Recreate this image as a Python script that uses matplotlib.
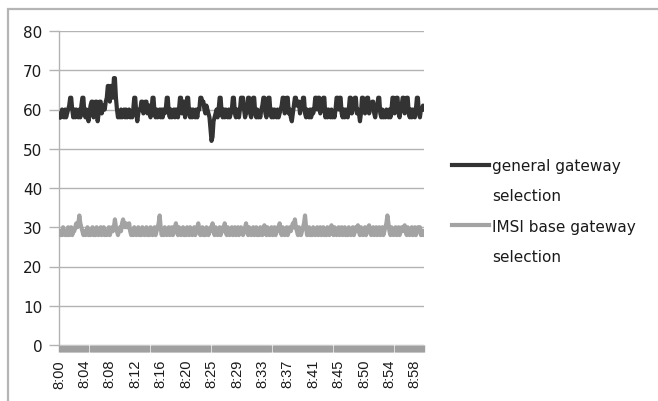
import matplotlib
matplotlib.use("Agg")
import matplotlib.pyplot as plt
from matplotlib.lines import Line2D
from matplotlib.patches import Rectangle
from datetime import datetime, timedelta

# ---- data (10-second samples, 8:00:00 .. 8:59:50) ----
general = [
    58, 59, 58, 60, 59, 58, 60, 58, 59, 60, 61, 63, 63, 60, 58, 60, 58, 60, 59, 58,
    60, 58, 61, 63, 63, 59, 58, 60, 58, 57, 59, 61, 62, 62, 58, 60, 62, 62, 57, 59,
    62, 62, 59, 60, 61, 60, 62, 63, 66, 66, 62, 66, 66, 63, 68, 68, 63, 60, 58, 59,
    58, 60, 58, 59, 60, 58, 60, 58, 59, 60, 58, 59, 58, 60, 63, 63, 59, 57, 59, 60,
    60, 62, 62, 59, 60, 62, 62, 59, 61, 61, 58, 60, 63, 63, 59, 58, 60, 58, 59, 60,
    58, 60, 58, 60, 59, 60, 63, 63, 59, 58, 60, 58, 59, 60, 58, 60, 60, 58, 60, 63,
    63, 59, 62, 62, 58, 60, 63, 63, 59, 58, 60, 58, 60, 59, 58, 60, 58, 60, 60, 63,
    63, 62, 62, 60, 59, 61, 60, 59, 58, 55, 52, 53, 57, 58, 59, 60, 58, 60, 63, 63,
    59, 58, 60, 58, 60, 59, 58, 60, 58, 59, 60, 63, 63, 59, 58, 60, 59, 58, 60, 63,
    63, 63, 60, 58, 59, 60, 63, 63, 59, 58, 60, 63, 63, 59, 58, 60, 58, 59, 58, 60,
    61, 63, 63, 59, 58, 60, 63, 63, 59, 58, 60, 58, 60, 59, 58, 60, 58, 59, 60, 61,
    63, 63, 59, 60, 63, 63, 59, 60, 58, 57, 59, 61, 63, 63, 61, 62, 62, 59, 60, 61,
    63, 63, 59, 58, 60, 59, 58, 60, 58, 60, 59, 60, 63, 63, 60, 63, 63, 59, 60, 61,
    63, 63, 58, 60, 58, 60, 59, 58, 60, 58, 59, 58, 60, 63, 63, 60, 63, 63, 59, 58,
    60, 58, 60, 59, 58, 60, 63, 63, 59, 60, 61, 63, 63, 59, 60, 59, 57, 59, 63, 63,
    60, 59, 61, 63, 63, 59, 60, 61, 62, 62, 59, 58, 60, 61, 63, 63, 59, 58, 60, 58,
    59, 58, 60, 59, 58, 60, 58, 60, 63, 63, 59, 60, 63, 63, 59, 58, 60, 61, 63, 63,
    59, 60, 63, 63, 59, 58, 60, 58, 60, 59, 58, 60, 63, 63, 59, 58, 60, 60, 61, 60,
]
imsi = [
    29, 28, 29, 28, 30, 29, 28, 29, 28, 30, 28, 29, 30, 28, 29, 29, 30, 31, 30, 31,
    33, 31, 30, 29, 28, 29, 28, 29, 30, 28, 29, 28, 29, 30, 28, 29, 28, 30, 29, 28,
    29, 30, 28, 29, 30, 28, 29, 28, 29, 30, 28, 29, 30, 29, 30, 32, 30, 29, 28, 29,
    30, 29, 31, 32, 31, 30, 31, 30, 30, 31, 29, 28, 29, 28, 30, 29, 28, 29, 30, 28,
    29, 28, 30, 29, 28, 29, 30, 28, 29, 28, 30, 29, 28, 29, 30, 28, 29, 30, 31, 33,
    30, 28, 29, 28, 30, 29, 28, 29, 30, 28, 29, 30, 28, 29, 30, 31, 29, 28, 30, 29,
    28, 29, 30, 28, 29, 28, 30, 29, 28, 30, 29, 28, 29, 30, 28, 29, 30, 31, 29, 28,
    29, 30, 28, 29, 28, 30, 29, 28, 29, 30, 29, 31, 29, 28, 30, 29, 28, 29, 30, 28,
    29, 30, 29, 31, 29, 28, 30, 29, 28, 29, 30, 28, 29, 30, 28, 29, 30, 28, 29, 30,
    29, 28, 29, 30, 31, 29, 28, 30, 29, 28, 29, 30, 28, 29, 30, 28, 29, 28, 30, 29,
    28, 29, 30.5, 29, 28, 30, 29, 28, 29, 30, 28, 29, 30, 28, 29, 30, 29, 31, 29, 28,
    30, 29, 28, 29, 30, 28, 29, 30, 29, 30, 31, 30, 32, 30, 29, 28, 30, 29, 28, 29,
    30, 31, 33, 30, 28, 29, 30, 28, 29, 28, 30, 29, 28, 29, 30, 28, 29, 30, 28, 29,
    30, 28, 29, 28, 30, 29, 28, 29, 30.5, 29, 28, 30, 29, 28, 29, 30, 28, 29, 30, 28,
    29, 30, 28, 29, 28, 30, 29, 28, 29, 30, 28, 29, 30, 29, 30.5, 29, 28, 30, 29, 28,
    29, 30, 28, 29, 30, 30.5, 29, 28, 29, 30, 28, 29, 30, 28, 29, 30, 28, 29, 30, 28,
    29, 30, 31, 33, 31, 29, 28, 30, 29, 28, 29, 30, 28, 29, 30, 28, 29, 30, 29, 30,
    30.5, 29, 28, 30, 29, 28, 29, 30, 28, 29, 30, 28, 29, 30, 29, 30, 28, 29, 28, 29,
]
series_names = ["general gateway", "IMSI base gateway"]
y_ticks = [0, 10, 20, 30, 40, 50, 60, 70, 80]

start = datetime(2000, 1, 1, 8, 0, 0)
times = [start + timedelta(seconds=10 * i) for i in range(len(general))]
label_every = 25
x = list(range(len(general)))
tick_pos = x[::label_every]
tick_labels = [f"{t.hour}:{t.minute:02d}" for t in times[::label_every]]

# ---- figure ----
W, H = 658, 402
fig = plt.figure(figsize=(W / 100, H / 100), dpi=100)
fig.patch.set_facecolor("white")

# outer chart-area border (only top/left visible in the crop)
top = 1 - 9.5 / H
fig.patches.append(Rectangle((7.5 / W, -1.0), 3.0, top + 1.0,
                             transform=fig.transFigure, fill=False,
                             edgecolor="#b5b5b5", linewidth=1.6))

ax = fig.add_axes([59 / W, 1 - 346 / H, (424 - 59) / W, (346 - 32) / H])
grid_c = "#b3b3b3"
ax.plot(x, general, color="#333333", linewidth=3.0, solid_joinstyle="round", zorder=3)
ax.plot(x, imsi, color="#a3a3a3", linewidth=3.0, solid_joinstyle="round", zorder=3)

ax.set_xlim(0, len(general) - 1)
ax.set_ylim(0, 80)
ax.set_yticks(y_ticks)
ax.yaxis.grid(True, color=grid_c, linewidth=1.0)
ax.set_axisbelow(True)
for s in ["top", "right", "bottom"]:
    ax.spines[s].set_visible(False)
ax.spines["left"].set_color(grid_c)
ax.spines["left"].set_linewidth(1.0)
ax.tick_params(axis="y", length=7, width=1.0, color=grid_c, pad=5,
               labelsize=11, labelcolor="#1a1a1a")
for t in ax.get_yticklabels():
    t.set_family("DejaVu Sans")

ax.set_xticks(tick_pos)
ax.set_xticklabels(tick_labels, rotation=90, fontsize=10.5, color="#1a1a1a",
                   family=["Liberation Sans", "DejaVu Sans"])
ax.set_xticks(x, minor=True)
ax.tick_params(axis="x", which="major", length=5, width=1.0, color="#a0a0a0", pad=5)
ax.tick_params(axis="x", which="minor", length=5, width=1.0, color="#a0a0a0")

# legend: handle aligned with first line of each wrapped label
handles = [Line2D([], [], color="#333333", linewidth=3),
           Line2D([], [], color="none"),
           Line2D([], [], color="#a3a3a3", linewidth=3),
           Line2D([], [], color="none")]
labels = [series_names[0], "selection", series_names[1], "selection"]
leg = fig.legend(handles, labels, loc="upper left",
                 bbox_to_anchor=(452 / W, 1 - 159 / H), frameon=False,
                 borderpad=0, borderaxespad=0, handlelength=2.4,
                 handletextpad=0.2, labelspacing=1.0,
                 prop={"family": "DejaVu Sans", "size": 11})
for t in leg.get_texts():
    t.set_color("#1a1a1a")

fig.savefig("out.png", dpi=100, facecolor="white")
